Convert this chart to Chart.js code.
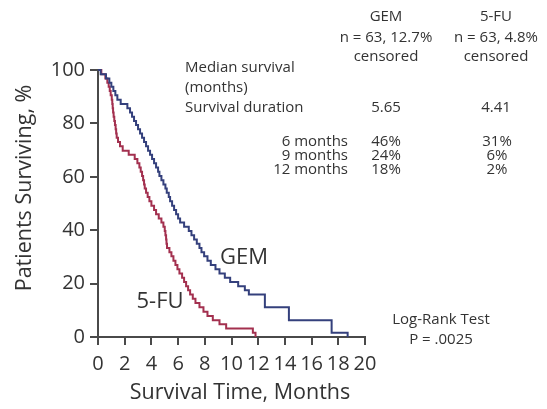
<!DOCTYPE html>
<html><head><meta charset="utf-8">
<script src="https://cdn.jsdelivr.net/npm/chart.js@4.4.0/dist/chart.umd.min.js"></script>
<style>html,body{margin:0;padding:0;background:#fff;}canvas{display:block;}</style>
</head><body>
<canvas id="c" width="547" height="409"></canvas>
<script>
// ---- data ----
const gemMonths = [0, 0.2, 0.6, 0.85, 1.0, 1.15, 1.3, 1.45, 1.7, 2.2, 2.4, 2.55, 2.7, 2.85, 3.0, 3.15, 3.3, 3.45, 3.6, 3.75, 3.9, 4.05, 4.2, 4.35, 4.5, 4.6, 4.75, 4.9, 5.05, 5.15, 5.3, 5.4, 5.55, 5.7, 5.85, 6.0, 6.15, 6.45, 6.8, 7.0, 7.2, 7.4, 7.6, 7.75, 7.95, 8.2, 8.45, 8.8, 9.1, 9.5, 9.9, 10.5, 11.0, 11.3, 12.5, 14.3, 17.5, 18.7];
const gemSurvival = [100, 98.4, 96.8, 95.2, 93.7, 92.1, 90.5, 88.9, 87.3, 85.7, 84.1, 82.5, 80.9, 79.4, 77.8, 76.2, 74.6, 73.0, 71.4, 69.8, 68.3, 66.7, 65.1, 63.5, 61.9, 60.3, 58.7, 57.1, 55.6, 54.0, 52.4, 50.8, 49.2, 47.6, 46.0, 44.4, 42.9, 41.3, 39.7, 38.1, 36.5, 34.9, 33.3, 31.7, 30.2, 28.6, 27.0, 25.4, 23.8, 22.2, 20.6, 19.0, 17.5, 15.9, 11.1, 6.3, 1.6, 0];

const fuMonths = [0, 0.25, 0.55, 0.7, 0.8, 0.88, 0.95, 1.03, 1.07, 1.1, 1.13, 1.17, 1.22, 1.27, 1.32, 1.36, 1.4, 1.5, 1.65, 1.85, 2.3, 2.75, 2.95, 3.1, 3.2, 3.3, 3.38, 3.45, 3.5, 3.6, 3.72, 3.85, 4.0, 4.2, 4.35, 4.55, 4.75, 4.9, 5.0, 5.05, 5.1, 5.13, 5.17, 5.35, 5.5, 5.65, 5.8, 5.95, 6.1, 6.3, 6.45, 6.6, 6.75, 6.9, 7.1, 7.3, 7.6, 7.9, 8.2, 8.6, 9.1, 9.6, 11.6, 11.8];
const fuSurvival = [100, 98.4, 96.8, 95.2, 93.7, 92.1, 90.5, 88.9, 87.3, 85.7, 84.1, 82.5, 80.9, 79.4, 77.8, 76.2, 74.6, 73.0, 71.4, 69.8, 68.3, 66.7, 65.1, 63.5, 61.9, 60.3, 58.7, 57.1, 55.6, 54.0, 52.4, 50.8, 49.2, 47.6, 46.0, 44.4, 42.9, 41.3, 39.7, 38.1, 36.5, 34.9, 33.3, 31.7, 30.2, 28.6, 27.0, 25.4, 23.8, 22.2, 20.6, 19.0, 17.5, 15.9, 14.3, 12.7, 11.1, 9.5, 7.9, 6.3, 4.8, 3.2, 1.6, 0];

const xTickValues = [0, 2, 4, 6, 8, 10, 12, 14, 16, 18, 20];
const yTickValues = [0, 20, 40, 60, 80, 100];

const xTitle = 'Survival Time, Months';
const yTitle = 'Patients Surviving, %';
const seriesNames = ['GEM', '5-FU'];
const headerGEM = ['GEM', 'n = 63, 12.7%', 'censored'];
const headerFU = ['5-FU', 'n = 63, 4.8%', 'censored'];
const medianLabel = ['Median survival', '(months)', 'Survival duration'];
const medianValues = ['5.65', '4.41'];
const rateLabels = ['6 months', '9 months', '12 months'];
const rateGEM = ['46%', '24%', '18%'];
const rateFU = ['31%', '6%', '2%'];
const testLabel = ['Log-Rank Test', 'P = .0025'];

const gemColor = '#34407c';
const fuColor = '#a3304f';
const textColor = '#333';
const axisColor = '#4a4a4a';
const FONT = '"Open Sans", sans-serif';

const textPlugin = {
  id: 'texts',
  afterDraw(chart) {
    const ctx = chart.ctx;
    ctx.save();
    ctx.fillStyle = textColor;
    ctx.textBaseline = 'middle';
    // axis titles
    ctx.font = '21.5px ' + FONT;
    ctx.textAlign = 'center';
    ctx.fillText(xTitle, 240, 393);
    ctx.save();
    ctx.translate(25, 188);
    ctx.rotate(-Math.PI / 2);
    ctx.fillText(yTitle, 0, 0);
    ctx.restore();
    // series labels
    ctx.font = '22px ' + FONT;
    ctx.fillText(seriesNames[0], 244, 258);
    ctx.fillText(seriesNames[1], 160, 302);
    // table
    ctx.font = '15px ' + FONT;
    const hy = [17, 38, 57];
    headerGEM.forEach((t, i) => ctx.fillText(t, 386, hy[i]));
    headerFU.forEach((t, i) => ctx.fillText(t, 496, hy[i]));
    ctx.textAlign = 'left';
    const my = [68, 88, 108];
    medianLabel.forEach((t, i) => ctx.fillText(t, 185, my[i]));
    ctx.textAlign = 'center';
    ctx.fillText(medianValues[0], 386, 108);
    ctx.fillText(medianValues[1], 496, 108);
    const ry = [142, 156, 170];
    ctx.textAlign = 'right';
    rateLabels.forEach((t, i) => ctx.fillText(t, 348, ry[i]));
    ctx.textAlign = 'center';
    rateGEM.forEach((t, i) => ctx.fillText(t, 386, ry[i]));
    rateFU.forEach((t, i) => ctx.fillText(t, 497, ry[i]));
    ctx.fillText(testLabel[0], 441, 320);
    ctx.fillText(testLabel[1], 441, 340);
    ctx.restore();
  }
};

const axisCommon = {
  type: 'linear',
  grid: { display: true, drawOnChartArea: false, drawTicks: true, tickLength: 8, color: axisColor, lineWidth: 2 },
  border: { display: true, color: axisColor, width: 2 },
  ticks: { font: { family: FONT, size: 20 }, color: textColor, autoSkip: false, maxRotation: 0 }
};

new Chart(document.getElementById('c'), {
  type: 'line',
  data: {
    datasets: [
      { label: seriesNames[0], data: gemMonths.map((m, i) => ({ x: m, y: gemSurvival[i] })),
        borderColor: gemColor, borderWidth: 2, pointRadius: 0, stepped: 'before', fill: false, clip: false },
      { label: seriesNames[1], data: fuMonths.map((m, i) => ({ x: m, y: fuSurvival[i] })),
        borderColor: fuColor, borderWidth: 2, pointRadius: 0, stepped: 'before', fill: false, clip: false }
    ]
  },
  options: {
    responsive: false,
    devicePixelRatio: 1,
    animation: false,
    layout: { padding: { top: 70, right: 182, left: 0, bottom: 0 } },
    plugins: { legend: { display: false }, tooltip: { enabled: false } },
    scales: {
      x: Object.assign({}, axisCommon, {
        min: 0, max: 20,
        ticks: Object.assign({}, axisCommon.ticks, { padding: 7 }),
        afterBuildTicks: s => { s.ticks = xTickValues.map(v => ({ value: v })); },
        afterFit: s => { s.height = 72; }
      }),
      y: Object.assign({}, axisCommon, {
        min: 0, max: 100,
        ticks: Object.assign({}, axisCommon.ticks, { padding: 5 }),
        afterBuildTicks: s => { s.ticks = yTickValues.map(v => ({ value: v })); },
        afterFit: s => { s.width = 98; }
      })
    }
  },
  plugins: [textPlugin]
});
</script>
</body></html>
